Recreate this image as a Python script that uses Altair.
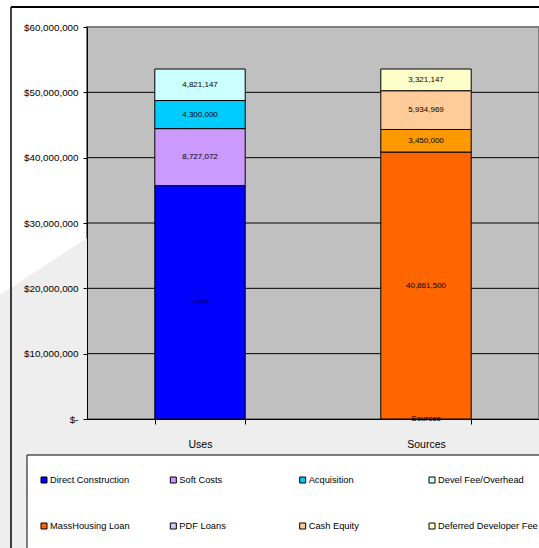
import altair as alt
import pandas as pd

# ---------------- data ----------------
categories = ["Uses", "Sources"]
series = ["Direct Construction", "Soft Costs", "Acquisition", "Devel Fee/Overhead",
          "MassHousing Loan", "PDF Loans", "Cash Equity", "Deferred Developer Fee"]
series_category = ["Uses", "Uses", "Uses", "Uses",
                   "Sources", "Sources", "Sources", "Sources"]
values = [35719397, 8727072, 4300000, 4821147,
          40861500, 3450000, 5934969, 3321147]
segment_labels = ["Uses", "8,727,072", "4,300,000", "4,821,147",
                  "40,861,500", "3,450,000", "5,934,969", "3,321,147"]
bar_colors = ["#0000FF", "#CC99FF", "#00CCFF", "#CCFFFF",
              "#FF6600", "#FF9900", "#FFCC99", "#FFFFCC"]
legend_colors = ["#0000FF", "#CC99FF", "#00CCFF", "#CCFFFF",
                 "#FF6600", "#CCCCFF", "#FFCC99", "#FFFFCC"]
y_ticks = [0, 10000000, 20000000, 30000000, 40000000, 50000000, 60000000]
grid_values = [10000000, 20000000, 30000000, 40000000, 50000000]

FONT = "Liberation Sans"

df = pd.DataFrame({
    "category": series_category,
    "series": series,
    "value": values,
    "label": segment_labels,
    "order": list(range(len(series))),
})
df["top"] = df.groupby("category")["value"].cumsum()
df["mid"] = df["top"] - df["value"] / 2
text_df = pd.concat([
    df[["category", "label", "mid"]],
    pd.DataFrame({"category": ["Sources"], "label": ["Sources"], "mid": [0]}),
], ignore_index=True)

legend_df = pd.DataFrame({
    "label": series,
    "color": legend_colors,
    "col": [i % 4 for i in range(len(series))],
    "row": [i // 4 for i in range(len(series))],
})


def xs():
    return alt.Scale(domain=categories, paddingInner=0.6, paddingOuter=0.3)


def ys():
    return alt.Scale(domain=[0, 60000000], nice=False, zero=True)


# ---------------- main plot ----------------
grid = alt.Chart(pd.DataFrame({"v": grid_values})).mark_rule(
    color="black", strokeWidth=1
).encode(y=alt.Y("v:Q", scale=ys(), axis=None))

bars = alt.Chart(df).mark_bar(stroke="black", strokeWidth=1).encode(
    x=alt.X("category:N", scale=xs(), sort=categories,
            axis=alt.Axis(title=None, orient="bottom", labelAngle=0, labelFont=FONT,
                          labelFontSize=10.5, labelColor="black", tickBand="extent",
                          tickSize=5, tickColor="black", domainColor="black",
                          labelPadding=15, grid=False, zindex=1)),
    y=alt.Y("value:Q", stack="zero", scale=ys(),
            axis=alt.Axis(title=None, orient="left", values=y_ticks, grid=False,
                          labelExpr="datum.value == 0 ? '$-' : '$' + format(datum.value, ',')",
                          labelFont=FONT, labelFontSize=9.8, labelColor="black",
                          tickSize=4, tickColor="black", domainColor="black",
                          labelPadding=5, zindex=1)),
    color=alt.Color("series:N", scale=alt.Scale(domain=series, range=bar_colors), legend=None),
    order=alt.Order("order:Q"),
)

texts = alt.Chart(text_df).mark_text(
    font=FONT, fontSize=8, color="black", baseline="middle", align="center"
).encode(
    x=alt.X("category:N", scale=xs(), sort=categories, axis=None),
    y=alt.Y("mid:Q", scale=ys(), axis=None),
    text="label:N",
)

# ---------------- decorations (image-pixel scales) ----------------
px_scale = alt.Scale(domain=[0, 539], range=[-87, 452], nice=False, zero=False)
py_scale = alt.Scale(domain=[0, 548], range=[-27, 521], nice=False, zero=False)

bg_df = pd.DataFrame({
    "px": [0, 87, 87.5, 539],
    "py": [295, 238, 419, 419],
    "py2": [548, 548, 548, 548],
})
bg = alt.Chart(bg_df).mark_area(color="#EEEEEE", opacity=1).encode(
    x=alt.X("px:Q", scale=px_scale, axis=None),
    y=alt.Y("py:Q", scale=py_scale, axis=None),
    y2="py2:Q",
)

one = pd.DataFrame({"a": [0]})
frame_left = alt.Chart(one).mark_rule(color="black", strokeWidth=1.5).encode(
    x=alt.value(-76), y=alt.value(-20), y2=alt.value(530))
frame_top = alt.Chart(one).mark_rule(color="black", strokeWidth=2).encode(
    x=alt.value(-76), x2=alt.value(470), y=alt.value(-20))

legend_box = alt.Chart(one).mark_rect(fill="white", stroke="black", strokeWidth=1).encode(
    x=alt.value(-60), x2=alt.value(470), y=alt.value(428), y2=alt.value(540))

lx = alt.Scale(domain=[0, 3], range=[-43, 345], nice=False, zero=False)
ly = alt.Scale(domain=[0, 1], range=[453, 499], nice=False, zero=False)

swatches = alt.Chart(legend_df).mark_point(
    shape="square", filled=True, size=36, stroke="black", strokeWidth=1, opacity=1
).encode(
    x=alt.X("col:Q", scale=lx, axis=None),
    y=alt.Y("row:Q", scale=ly, axis=None),
    fill=alt.Fill("color:N", scale=None),
)
legend_text = alt.Chart(legend_df).mark_text(
    font=FONT, fontSize=9.3, color="black", align="left", baseline="middle", dx=6
).encode(
    x=alt.X("col:Q", scale=lx, axis=None),
    y=alt.Y("row:Q", scale=ly, axis=None),
    text="label:N",
)

chart = alt.layer(
    bg, frame_left, frame_top, grid, bars, texts, legend_box, swatches, legend_text
).resolve_scale(
    x="independent", y="independent"
).properties(
    width=452, height=392,
    autosize=alt.AutoSizeParams(type="none"),
    padding={"left": 87, "top": 27, "right": 0, "bottom": 129},
    background="white",
).configure_view(
    fill="#C0C0C0", stroke="#808080", strokeWidth=2
)

chart.save("out.html", embed_options={"renderer": "svg", "actions": False})
